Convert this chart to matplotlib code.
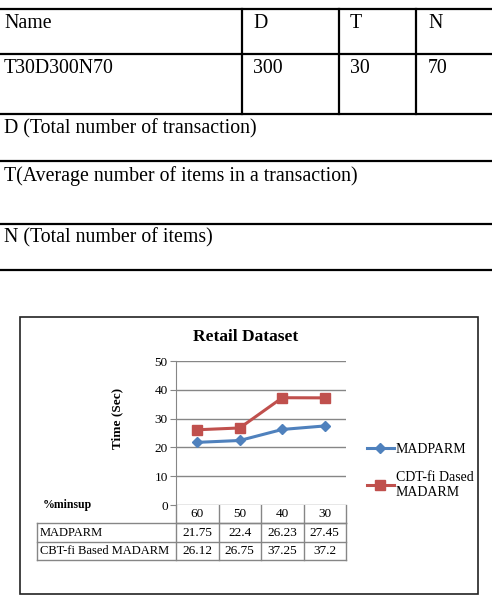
import numpy as np
import matplotlib.pyplot as plt
from matplotlib.lines import Line2D
from matplotlib.patches import Rectangle

plt.rcParams["font.family"] = "Liberation Serif"

# top info table
head_cells = ["Name", "D", "T", "N"]
row_cells = ["T30D300N70", "300", "30", "70"]
notes = ["D (Total number of transaction)",
         "T(Average number of items in a transaction)",
         "N (Total number of items)"]

# chart data
minsup = ["60", "50", "40", "30"]
series_names = ["MADPARM", "CBT-fi Based MADARM"]
legend_names = ["MADPARM", "CDT-fi Dased\nMADARM"]
madparm = [21.75, 22.4, 26.23, 27.45]
cbt = [26.12, 26.75, 37.25, 37.2]
yticks = [0, 10, 20, 30, 40, 50]

blue = "#4F81BD"
red = "#C0504D"
grid_c = "#868686"

W, H = 492, 612
fig = plt.figure(figsize=(W / 100, H / 100), dpi=100)

# background axes in pixel coords for tables and frame
bg = fig.add_axes([0, 0, 1, 1])
bg.set_xlim(0, W)
bg.set_ylim(H, 0)
bg.axis("off")

# ---- top table ----
hl = [9, 54, 114, 161, 224, 270]
for y in hl:
    bg.add_line(Line2D([0, W], [y, y], color="black", lw=1.6))
for x in [242, 339, 416]:
    bg.add_line(Line2D([x, x], [9, 114], color="black", lw=1.6))
col_x = [4, 253, 350, 428]
fs_top = 14.3
for x, a, b in zip(col_x, head_cells, row_cells):
    bg.text(x, 14, a, fontsize=fs_top, va="top", ha="left")
    bg.text(x, 59, b, fontsize=fs_top, va="top", ha="left")
for y, s in zip([119, 166, 228], notes):
    bg.text(4, y, s, fontsize=fs_top, va="top", ha="left")

# ---- chart frame ----
bg.add_patch(Rectangle((20, 317), 458, 277, fill=False, ec="#222222", lw=1.2))
bg.text(246, 337, "Retail Dataset", fontsize=12.5, fontweight="bold",
        ha="center", va="center")

# plot axes
px_l, px_r, px_t, px_b = 176, 346, 361, 505
ax = fig.add_axes([px_l / W, 1 - px_b / H, (px_r - px_l) / W, (px_b - px_t) / H])
x = np.arange(len(minsup))
ax.plot(x, madparm, color=blue, lw=2.2, marker="D", ms=5.5, label=legend_names[0])
ax.plot(x, cbt, color=red, lw=2.2, marker="s", ms=7.5, label=legend_names[1])
ax.set_xlim(-0.5, len(minsup) - 0.5)
ax.set_ylim(0, 50)
ax.set_yticks(yticks)
ax.set_yticklabels([str(v) for v in yticks], fontsize=9.5)
ax.set_xticks([])
ax.yaxis.grid(True, color=grid_c, lw=1)
ax.set_axisbelow(True)
for s in ["top", "right", "bottom"]:
    ax.spines[s].set_visible(False)
ax.spines["left"].set_color(grid_c)
ax.tick_params(axis="y", length=4, color=grid_c, pad=2)
ax.set_ylabel("Time (Sec)", fontsize=9.5, fontweight="bold")
ax.yaxis.set_label_coords(-0.31, 0.604)

ax.legend(loc="center left", bbox_to_anchor=(1.08, 0.235), frameon=False,
          fontsize=10, handlelength=2.0, labelspacing=1.1, borderpad=0,
          handletextpad=0.1)

# ---- data table under plot ----
col_w = (px_r - px_l) / len(minsup)
row_h = [505, 523, 542, 560]
tc = grid_c
bg.add_line(Line2D([px_l, px_l], [505, 560], color=tc, lw=1))
bg.add_line(Line2D([px_r, px_r], [505, 560], color=tc, lw=1))
bg.add_line(Line2D([px_l, px_r], [523, 523], color=tc, lw=1))
for i in range(1, len(minsup)):
    bg.add_line(Line2D([px_l + i * col_w] * 2, [505, 560], color=tc, lw=1))
for y in [523, 542, 560]:
    bg.add_line(Line2D([37, px_r], [y, y], color=tc, lw=1))
bg.add_line(Line2D([37, 37], [523, 560], color=tc, lw=1))
for i, lab in enumerate(minsup):
    bg.text(px_l + (i + 0.5) * col_w, 514, lab, fontsize=9.5, ha="center", va="center")
for r, (name, vals) in enumerate(zip(series_names, [madparm, cbt])):
    yc = (row_h[r + 1] + row_h[r + 2]) / 2
    bg.text(40, yc, name, fontsize=9, ha="left", va="center")
    for i, v in enumerate(vals):
        bg.text(px_l + (i + 0.5) * col_w, yc, f"{v:g}", fontsize=9.5,
                ha="center", va="center")
bg.text(43, 505, "%minsup", fontsize=8.5, fontweight="bold", ha="left", va="center")

fig.savefig("out.png", dpi=100)
